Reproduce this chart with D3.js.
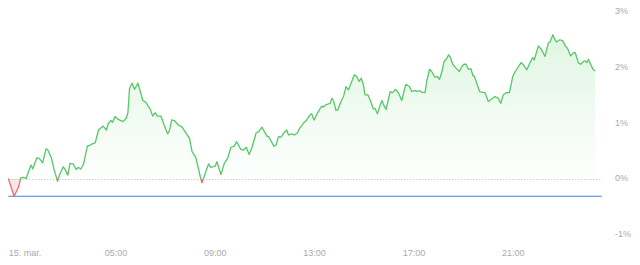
<!DOCTYPE html>
<html>
<head>
<meta charset="utf-8">
<script src="https://cdn.jsdelivr.net/npm/d3@7"></script>
<style>
  body { margin: 0; background: #fff; }
  #chart { width: 640px; height: 265px; }
  .axis text { font-family: "Liberation Sans", Arial, sans-serif; font-size: 9px; fill: #a6abb2; }
</style>
</head>
<body>
<div id="chart"></div>
<script>
// minutes after midnight, 15 March (values above 1440 are on 16 March)
var minutes = [41, 55, 66, 71, 78, 84, 90, 96, 100, 110, 116, 124, 132, 136, 145, 152, 160, 166, 174, 179,
  185, 190, 198, 205, 210, 216, 223, 232, 239, 244, 251, 259, 270, 278, 283, 289, 293, 299, 307, 318,
  326, 330, 334, 340, 346, 354, 360, 366, 373, 384, 390, 396, 401, 410, 416, 426, 430, 436, 442, 452,
  460, 468, 479, 485, 494, 505, 509, 514, 525, 530, 541, 545, 555, 563, 571, 579, 587, 593, 603, 609,
  616, 623, 630, 640, 646, 654, 666, 670, 683, 688, 694, 700, 706, 714, 718, 726, 732, 740, 745, 754,
  762, 770, 774, 780, 787, 795, 799, 803, 808, 815, 819, 823, 827, 833, 837, 845, 851, 857, 863, 871,
  877, 883, 889, 894, 899, 903, 910, 917, 923, 927, 933, 940, 944, 948, 954, 960, 964, 970, 977, 984,
  992, 998, 1002, 1010, 1016, 1024, 1030, 1034, 1040, 1048, 1052, 1059, 1064, 1072, 1078, 1083, 1089, 1094, 1101, 1105,
  1109, 1115, 1123, 1131, 1137, 1142, 1147, 1153, 1159, 1164, 1167, 1173, 1180, 1185, 1193, 1201, 1210, 1217, 1225, 1231,
  1237, 1244, 1252, 1260, 1266, 1274, 1280, 1286, 1294, 1302, 1308, 1312, 1322, 1329, 1338, 1346, 1350, 1357, 1362, 1366,
  1374, 1381, 1387, 1392, 1400, 1407, 1411, 1419, 1424, 1431, 1435, 1439, 1443, 1447, 1454, 1459];

// change in percent
var changes = [0.01, -0.31, -0.14, 0.02, 0.03, 0.01, 0.13, 0.25, 0.18, 0.38, 0.37, 0.29, 0.54, 0.53, 0.38, 0.16, -0.04, 0.10, 0.22, 0.16,
  0.07, 0.28, 0.27, 0.17, 0.21, 0.18, 0.27, 0.59, 0.61, 0.63, 0.65, 0.88, 0.95, 0.88, 1.00, 1.05, 1.02, 1.12, 1.07, 1.03,
  1.09, 1.19, 1.63, 1.72, 1.61, 1.72, 1.57, 1.41, 1.38, 1.25, 1.13, 1.19, 1.13, 1.13, 1.00, 0.81, 0.86, 1.06, 1.05, 0.97,
  0.94, 0.85, 0.73, 0.49, 0.39, 0.04, -0.07, 0.04, 0.27, 0.21, 0.23, 0.31, 0.08, 0.28, 0.37, 0.57, 0.59, 0.67, 0.53, 0.52,
  0.57, 0.44, 0.57, 0.83, 0.85, 0.93, 0.77, 0.76, 0.59, 0.61, 0.76, 0.75, 0.82, 0.88, 0.79, 0.81, 0.79, 0.83, 0.91, 1.00,
  1.06, 1.15, 1.17, 1.06, 1.17, 1.27, 1.31, 1.29, 1.33, 1.35, 1.36, 1.45, 1.40, 1.23, 1.24, 1.39, 1.48, 1.66, 1.60, 1.75,
  1.87, 1.84, 1.75, 1.81, 1.69, 1.51, 1.51, 1.39, 1.26, 1.27, 1.17, 1.33, 1.41, 1.33, 1.25, 1.45, 1.57, 1.55, 1.61, 1.54,
  1.41, 1.60, 1.70, 1.66, 1.57, 1.59, 1.57, 1.59, 1.56, 1.55, 1.75, 1.97, 1.93, 1.83, 1.84, 1.79, 1.93, 2.11, 2.17, 2.23,
  2.19, 2.06, 1.99, 1.93, 2.02, 2.06, 2.06, 1.97, 1.98, 1.85, 1.85, 1.72, 1.57, 1.56, 1.55, 1.39, 1.44, 1.48, 1.45, 1.36,
  1.51, 1.55, 1.55, 1.84, 1.93, 2.02, 2.09, 2.05, 1.96, 2.09, 2.18, 2.14, 2.39, 2.33, 2.20, 2.44, 2.46, 2.59, 2.50, 2.46,
  2.50, 2.48, 2.39, 2.35, 2.21, 2.27, 2.27, 2.08, 2.06, 2.11, 2.12, 2.09, 2.15, 2.08, 1.97, 1.94];

var lowLine = -0.31;

var tickMinutes = [60, 300, 540, 780, 1020, 1260];
var firstTickLabel = "15. mar.";
var yTicks = [-1, 0, 1, 2, 3];

var day0 = new Date(2024, 2, 15);
var data = minutes.map(function(m, i) {
    return { t: d3.timeMinute.offset(day0, m), v: changes[i] };
});

var width = 640, height = 265;
var left = 8.3, right = 601.7;

var x = d3.scaleTime()
    .domain([d3.timeMinute.offset(day0, 41), d3.timeMinute.offset(day0, 1475)])
    .range([left, right]);

var y = d3.scaleLinear()
    .domain([-1, 3])
    .range([234.7, 11.9]);

var svg = d3.select("#chart")
    .append("svg")
    .attr("width", width)
    .attr("height", height);

var defs = svg.append("defs");

var grad = defs.append("linearGradient")
    .attr("id", "greenFill")
    .attr("gradientUnits", "userSpaceOnUse")
    .attr("x1", 0).attr("x2", 0)
    .attr("y1", y(2.6)).attr("y2", y(0));
grad.append("stop").attr("offset", 0).attr("stop-color", "#4cc95e").attr("stop-opacity", 0.17);
grad.append("stop").attr("offset", 1).attr("stop-color", "#4cc95e").attr("stop-opacity", 0.01);

// clips: above and below the zero line
defs.append("clipPath").attr("id", "above")
    .append("rect").attr("x", 0).attr("y", 0).attr("width", width).attr("height", y(0));
defs.append("clipPath").attr("id", "below")
    .append("rect").attr("x", 0).attr("y", y(0)).attr("width", width).attr("height", height - y(0));

var area = d3.area()
    .x(function(d) { return x(d.t); })
    .y0(y(0))
    .y1(function(d) { return y(d.v); });

var line = d3.line()
    .x(function(d) { return x(d.t); })
    .y(function(d) { return y(d.v); });

svg.append("path")
    .datum(data)
    .attr("clip-path", "url(#above)")
    .attr("fill", "url(#greenFill)")
    .attr("d", area);

svg.append("path")
    .datum(data)
    .attr("clip-path", "url(#below)")
    .attr("fill", "#f06262")
    .attr("fill-opacity", 0.16)
    .attr("d", area);

// zero line
svg.append("line")
    .attr("x1", left).attr("x2", right)
    .attr("y1", y(0) + 0.5).attr("y2", y(0) + 0.5)
    .attr("stroke", "#b5b9bf")
    .attr("stroke-width", 1)
    .attr("stroke-dasharray", "1,2");

// low line
svg.append("line")
    .attr("x1", left).attr("x2", right)
    .attr("y1", y(lowLine)).attr("y2", y(lowLine))
    .attr("stroke", "#3d7ff0")
    .attr("stroke-width", 1.2);

svg.append("path")
    .datum(data)
    .attr("clip-path", "url(#above)")
    .attr("fill", "none")
    .attr("stroke", "#55c964")
    .attr("stroke-width", 1.3)
    .attr("stroke-linejoin", "round")
    .attr("d", line);

svg.append("path")
    .datum(data)
    .attr("clip-path", "url(#below)")
    .attr("fill", "none")
    .attr("stroke", "#ef6a6a")
    .attr("stroke-width", 1.3)
    .attr("stroke-linejoin", "round")
    .attr("d", line);

// x axis
var xAxis = d3.axisBottom(x)
    .tickValues(tickMinutes.map(function(m) { return d3.timeMinute.offset(day0, m); }))
    .tickSize(0)
    .tickPadding(0)
    .tickFormat(function(d, i) { return i === 0 ? firstTickLabel : d3.timeFormat("%H:%M")(d); });

var gx = svg.append("g")
    .attr("class", "axis")
    .attr("transform", "translate(0,253)")
    .call(xAxis);
gx.select(".domain").remove();
gx.selectAll("text").attr("dy", "0.35em");
gx.select(".tick text")
    .attr("text-anchor", "start")
    .attr("x", left - x(d3.timeMinute.offset(day0, tickMinutes[0])));

// y axis
var yAxis = d3.axisRight(y)
    .tickValues(yTicks)
    .tickSize(0)
    .tickPadding(0)
    .tickFormat(function(d) { return d + "%"; });

var gy = svg.append("g")
    .attr("class", "axis")
    .attr("transform", "translate(615,-1)")
    .call(yAxis);
gy.select(".domain").remove();
</script>
</body>
</html>
